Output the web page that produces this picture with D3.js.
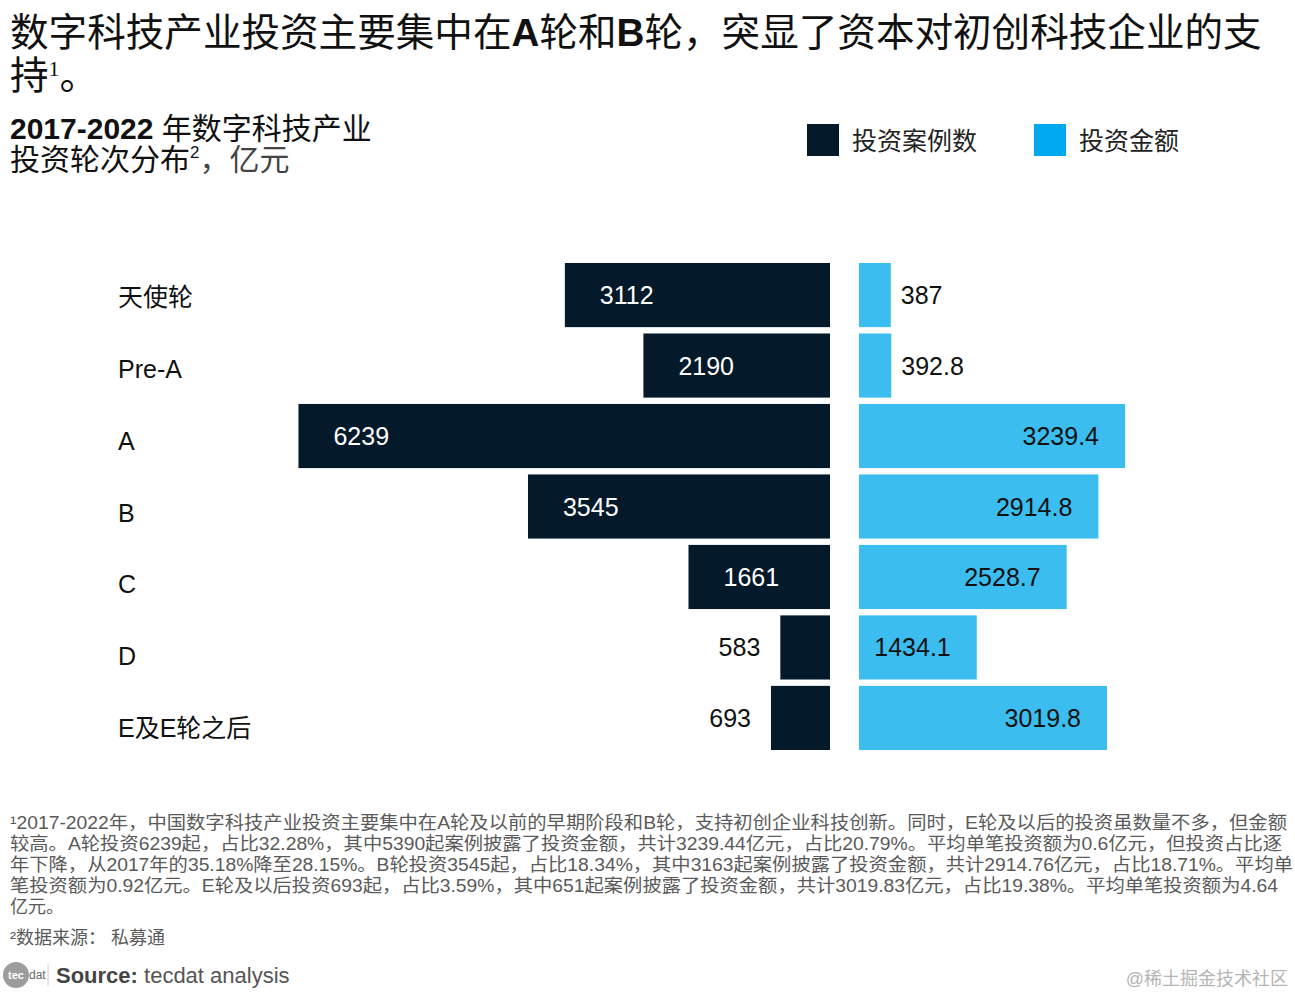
<!DOCTYPE html>
<html>
<head>
<meta charset="utf-8">
<title></title>
<script src="https://cdn.jsdelivr.net/npm/d3@7"></script>
<style>
	body { margin: 0; background: #fff; }
	text { font-family: "Liberation Sans", Arial, "Noto Sans CJK SC", sans-serif; }
</style>
</head>
<body>
<div id="chart"></div>
<script type="text/javascript">

// data
var rounds = ['天使轮', 'Pre-A', 'A', 'B', 'C', 'D', 'E及E轮之后'];
var caseCounts = [3112, 2190, 6239, 3545, 1661, 583, 693];
var amounts = [387, 392.8, 3239.4, 2914.8, 2528.7, 1434.1, 3019.8];
var amountLabels = ['387', '392.8', '3239.4', '2914.8', '2528.7', '1434.1', '3019.8'];
var seriesNames = ['投资案例数', '投资金额'];

var footLines = [
	'¹2017-2022年，中国数字科技产业投资主要集中在A轮及以前的早期阶段和B轮，支持初创企业科技创新。同时，E轮及以后的投资虽数量不多，但金额',
	'较高。A轮投资6239起，占比32.28%，其中5390起案例披露了投资金额，共计3239.44亿元，占比20.79%。平均单笔投资额为0.6亿元，但投资占比逐',
	'年下降，从2017年的35.18%降至28.15%。B轮投资3545起，占比18.34%，其中3163起案例披露了投资金额，共计2914.76亿元，占比18.71%。平均单',
	'笔投资额为0.92亿元。E轮及以后投资693起，占比3.59%，其中651起案例披露了投资金额，共计3019.83亿元，占比19.38%。平均单笔投资额为4.64',
	'亿元。'
];
var footWidths = [1277, 1272, 1283, 1268, null];

var W = 1295, H = 995;
var darkCol = '#041a2a', barBlue = '#3bbdf0', legendBlue = '#00a8f0';

var svg = d3.select('#chart').append('svg')
	.attr('width', W)
	.attr('height', H);

// title
var title = svg.append('text').attr('x', 10).attr('y', 46)
	.style('font-size', '38.6px').style('fill', '#111');
title.append('tspan').text('数字科技产业投资主要集中在');
title.append('tspan').text('A').style('font-weight', 'bold');
title.append('tspan').text('轮和');
title.append('tspan').text('B').style('font-weight', 'bold');
title.append('tspan').text('轮，突显了资本对初创科技企业的支');

var title2 = svg.append('text').attr('x', 10).attr('y', 89)
	.style('font-size', '38.6px').style('fill', '#111');
title2.append('tspan').text('持');
title2.append('tspan').text('1').style('font-size', '22px').attr('baseline-shift', '60%')
	.style('font-family', '"Liberation Serif", serif');
title2.append('tspan').text('。');

// subtitle
var sub1 = svg.append('text').attr('x', 10).attr('y', 139)
	.style('font-size', '30px').style('fill', '#111');
sub1.append('tspan').text('2017-2022').style('font-weight', 'bold');
sub1.append('tspan').text(' 年数字科技产业');

var sub2 = svg.append('text').attr('x', 10).attr('y', 170)
	.style('font-size', '30px').style('fill', '#111');
sub2.append('tspan').text('投资轮次分布');
sub2.append('tspan').text('2').style('font-size', '17px').attr('baseline-shift', '70%');
sub2.append('tspan').text('，亿元').style('fill', '#444');

// legend
var legend = svg.append('g');
[[807, darkCol], [1034, legendBlue]].forEach(function(d, i){
	legend.append('rect')
		.attr('x', d[0]).attr('y', 124)
		.attr('width', 32).attr('height', 32)
		.style('fill', d[1]);
	legend.append('text')
		.attr('x', d[0] + 45).attr('y', 141)
		.attr('dominant-baseline', 'central')
		.style('font-size', '25px').style('fill', '#222')
		.text(seriesNames[i]);
});

// scales
var y = d3.scaleBand().domain(rounds).range([263, 750]).paddingInner(0.09).paddingOuter(0);
var yLab = d3.scalePoint().domain(rounds).range([297, 728]);

var axisX = 830, rightX = 859;
var xLeft = d3.scaleLinear().domain([0, 6350]).range([0, 541]);
var xRight = d3.scaleLinear().domain([0, 3300]).range([0, 271]);

var rows = rounds.map(function(r, i){
	return {round: r, count: caseCounts[i], amount: amounts[i], amountLabel: amountLabels[i]};
});

// category labels
svg.selectAll('.cat').data(rows)
	.enter().append('text').classed('cat', true)
	.attr('x', 118)
	.attr('y', function(d){ return yLab(d.round); })
	.attr('dominant-baseline', 'central')
	.style('font-size', '25px').style('fill', '#111')
	.text(function(d){ return d.round; });

// left bars: case counts
svg.selectAll('.lbar').data(rows)
	.enter().append('rect').classed('lbar', true)
	.attr('x', function(d){ return axisX - xLeft(d.count); })
	.attr('y', function(d){ return y(d.round); })
	.attr('width', function(d){ return xLeft(d.count); })
	.attr('height', y.bandwidth())
	.style('fill', darkCol);

svg.selectAll('.llab').data(rows)
	.enter().append('text').classed('llab', true)
	.attr('x', function(d){
		var w = xLeft(d.count);
		return w > 100 ? axisX - w + 35 : axisX - w - 20;
	})
	.attr('y', function(d){ return y(d.round) + y.bandwidth()/2; })
	.attr('dominant-baseline', 'central')
	.attr('text-anchor', function(d){ return xLeft(d.count) > 100 ? 'start' : 'end'; })
	.style('font-size', '25px')
	.style('fill', function(d){ return xLeft(d.count) > 100 ? '#fff' : '#111'; })
	.text(function(d){ return d.count; });

// right bars: amounts
svg.selectAll('.rbar').data(rows)
	.enter().append('rect').classed('rbar', true)
	.attr('x', rightX)
	.attr('y', function(d){ return y(d.round); })
	.attr('width', function(d){ return xRight(d.amount); })
	.attr('height', y.bandwidth())
	.style('fill', barBlue);

svg.selectAll('.rlab').data(rows)
	.enter().append('text').classed('rlab', true)
	.attr('x', function(d){
		var w = xRight(d.amount);
		return w > 100 ? rightX + w - 26 : rightX + w + 10;
	})
	.attr('y', function(d){ return y(d.round) + y.bandwidth()/2; })
	.attr('dominant-baseline', 'central')
	.attr('text-anchor', function(d){ return xRight(d.amount) > 100 ? 'end' : 'start'; })
	.style('font-size', '25px').style('fill', '#111')
	.text(function(d){ return d.amountLabel; });

// footnotes
svg.selectAll('.foot').data(footLines)
	.enter().append('text').classed('foot', true)
	.attr('x', 10)
	.attr('y', function(d, i){ return 829 + i*21; })
	.each(function(d, i){
		if (footWidths[i]) {
			d3.select(this).attr('textLength', footWidths[i]).attr('lengthAdjust', 'spacingAndGlyphs');
		}
	})
	.style('font-size', '18px').style('fill', '#5a5a5a')
	.text(function(d){ return d; });

svg.append('text').attr('x', 10).attr('y', 944)
	.style('font-size', '18px').style('fill', '#5a5a5a')
	.text('²数据来源：  私募通');

// source line with logo
svg.append('circle').attr('cx', 16).attr('cy', 975).attr('r', 13).style('fill', '#9c9c9c');
svg.append('text').attr('x', 16).attr('y', 979).attr('text-anchor', 'middle')
	.style('font-size', '11px').style('fill', '#fff').style('font-weight', 'bold').text('tec');
svg.append('text').attr('x', 29).attr('y', 979)
	.style('font-size', '12px').style('fill', '#666').text('dat');
svg.append('line').attr('x1', 48).attr('x2', 48).attr('y1', 964).attr('y2', 986)
	.style('stroke', '#ccc').style('stroke-width', 1);

var src = svg.append('text').attr('x', 56).attr('y', 983)
	.style('font-size', '22px').style('fill', '#444');
src.append('tspan').text('Source:').style('font-weight', 'bold');
src.append('tspan').text(' tecdat analysis').style('fill', '#555');

svg.append('text').attr('x', 1288).attr('y', 985).attr('text-anchor', 'end')
	.style('font-size', '18px').style('fill', '#b5b5b5')
	.text('@稀土掘金技术社区');

</script>
</body>
</html>
